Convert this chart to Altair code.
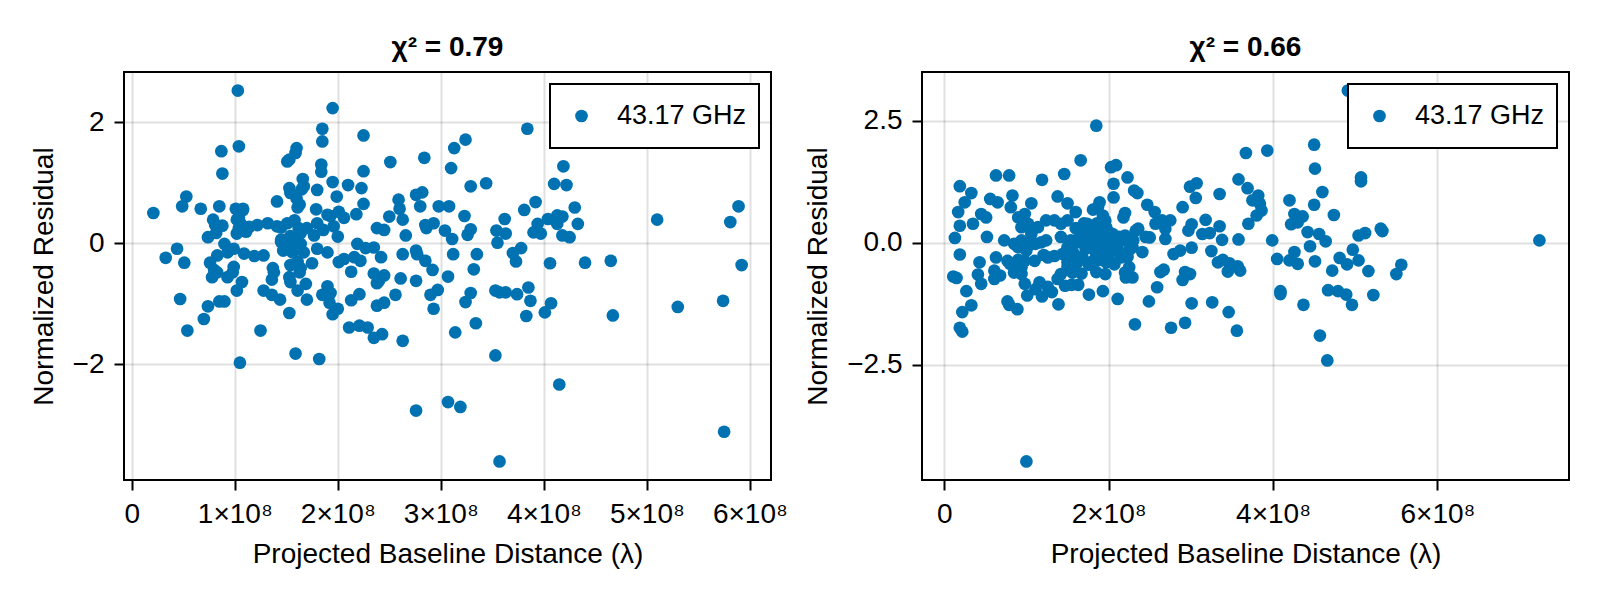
import altair as alt
import pandas as pd

FONT = "Liberation Sans"
BLUE = "#0072B2"
series_name = "43.17 GHz"
left_title = "χ² = 0.79"
right_title = "χ² = 0.66"
x_title = "Projected Baseline Distance (λ)"
y_title = "Normalized Residual"

# (projected baseline distance in units of 1e8 λ, normalized residual)
left_pts = [
    (1.03, 2.52), (1.95, 2.23), (1.85, 1.89), (1.85, 1.68), (2.25, 1.78), (1.04, 1.60), (0.87, 1.52), (0.88, 1.15),
    (1.60, 1.57), (1.59, 1.49), (1.51, 1.35), (1.53, 1.38), (1.84, 1.30), (1.84, 1.18), (2.25, 1.19), (2.51, 1.34), (2.84, 1.41),
    (1.66, 1.06), (1.67, 0.94), (1.53, 0.91), (1.80, 0.88), (1.95, 1.01), (1.99, 0.77), (2.10, 0.96), (2.23, 0.91),
    (0.53, 0.77), (0.49, 0.61), (0.67, 0.57), (0.21, 0.50), (0.85, 0.61), (1.01, 0.57), (1.08, 0.57), (1.41, 0.69),
    (1.60, 0.74), (1.63, 0.64), (1.61, 0.59), (1.79, 0.56), (1.90, 0.47), (1.93, 0.45), (2.01, 0.52), (2.06, 0.42), (2.18, 0.48), (2.25, 0.65),
    (2.59, 0.72), (2.60, 0.57), (2.63, 0.39), (2.50, 0.44), (2.76, 0.80), (2.82, 0.84), (2.80, 0.61), (2.98, 0.61),
    (0.79, 0.39), (0.81, 0.30), (0.88, 0.29), (1.04, 0.43), (1.06, 0.32), (1.02, 0.16), (1.11, 0.19), (0.74, 0.10),
    (1.22, 0.30), (1.32, 0.33), (1.41, 0.28), (1.51, 0.33), (1.58, 0.38), (1.45, 0.06), (1.54, 0.12), (1.64, 0.17), (1.70, 0.25),
    (1.80, 0.33), (1.86, 0.22), (1.96, 0.28), (2.00, 0.11), (2.38, 0.25), (2.45, 0.22), (2.66, 0.13), (2.85, 0.30), (2.93, 0.33), (2.86, 0.25),
    (1.45, 0.02), (1.51, -0.04), (1.58, 0.02), (1.64, -0.01), (1.56, -0.15),
    (0.90, -0.01), (0.93, -0.15), (0.99, -0.09), (1.09, -0.17), (0.44, -0.09), (0.33, -0.24), (0.51, -0.32), (0.76, -0.32), (0.83, -0.20),
    (1.19, -0.21), (1.28, -0.20), (1.75, -0.33), (1.80, -0.09), (1.90, -0.15), (2.01, -0.31), (2.06, -0.26), (2.16, -0.23), (2.22, -0.29),
    (2.19, -0.01), (2.35, -0.07), (2.42, -0.23), (2.63, -0.18), (2.76, -0.12), (2.77, -0.18), (2.85, -0.29), (2.92, -0.44),
    (2.13, -0.47), (2.35, -0.50), (2.45, -0.53), (0.80, -0.44), (0.99, -0.39), (1.37, -0.41), (1.54, -0.36), (1.64, -0.41), (2.61, -0.58), (2.76, -0.62),
    (0.78, -0.56), (0.93, -0.56), (0.83, -0.48), (0.98, -0.48), (1.07, -0.64), (1.02, -0.78), (0.47, -0.92), (0.54, -1.44), (0.70, -1.25), (0.74, -1.04),
    (0.85, -0.96), (0.90, -0.96), (1.25, -1.44), (1.05, -1.97), (1.28, -0.78), (1.36, -0.85), (1.44, -0.93), (1.36, -0.60), (1.38, -0.48),
    (1.53, -0.56), (1.54, -0.64), (1.63, -0.48), (1.53, -1.15), (1.59, -1.82), (1.61, -0.78), (1.69, -0.67), (1.70, -0.93), (1.82, -1.91),
    (1.85, -0.85), (1.90, -0.71), (1.93, -0.82), (1.92, -0.98), (1.95, -1.17), (2.00, -1.08), (2.11, -1.39), (2.21, -1.36), (2.29, -1.39),
    (2.35, -1.56), (2.43, -1.50), (2.13, -0.94), (2.21, -0.84), (2.38, -1.03), (2.45, -0.98), (2.56, -0.85), (2.63, -1.61), (2.38, -0.66),
    (2.90, -0.85), (2.97, -0.77), (2.93, -1.08), (2.76, -2.76),
    (3.84, 1.89), (3.13, 1.57), (3.24, 1.71), (3.10, 1.24), (3.29, 0.94), (3.44, 0.99), (3.08, 0.61), (3.23, 0.45), (3.04, 0.21), (3.11, 0.07),
    (3.29, 0.23), (3.26, 0.14), (3.54, 0.21), (3.63, 0.16), (3.55, 0.01), (3.62, 0.40), (3.81, 0.55), (3.92, 0.68), (3.94, 0.32), (3.90, 0.18), (3.97, 0.16),
    (4.04, 0.40), (4.13, 0.46), (4.18, 0.44), (4.13, 0.32), (4.18, 0.13), (4.25, 0.10), (4.10, 0.98), (4.22, 0.96), (4.19, 1.27), (4.30, 0.59), (4.33, 0.32),
    (5.10, 0.39), (5.89, 0.61), (5.81, 0.35), (3.70, -0.16), (3.78, -0.08), (3.73, -0.30), (4.06, -0.33), (4.40, -0.32), (4.65, -0.29), (5.92, -0.36),
    (3.12, -0.18), (3.35, -0.18), (3.32, -0.43), (3.07, -0.55),
    (3.24, -0.97), (3.29, -0.82), (3.34, -1.32), (3.14, -1.47), (3.53, -0.78), (3.57, -0.81), (3.63, -0.81), (3.74, -0.84), (3.85, -0.73), (3.87, -0.95),
    (3.83, -1.20), (3.53, -1.85), (4.01, -1.14), (4.07, -0.99), (4.67, -1.19), (5.30, -1.05), (5.74, -0.95), (4.15, -2.33), (3.07, -2.62), (3.19, -2.70),
    (3.57, -3.60), (5.75, -3.11),
    (2.27, -0.08), (2.40, -0.62), (1.61, -0.31), (1.67, -0.15), (1.77, 0.13), (1.47, -0.12), (1.45, 0.26), (1.62, 0.25), (1.14, 0.27), (0.82, 0.17),
    (1.08, 0.55), (1.04, 0.25), (1.02, 0.39), (1.54, 0.83), (1.65, 0.89),
]

right_pts = [
    (1.85, 2.40), (1.66, 1.69), (2.03, 1.55), (2.09, 1.59), (2.06, 1.21), (2.06, 0.93), (2.23, 1.34), (2.31, 1.07), (2.35, 1.02), (2.47, 0.78), (2.56, 0.63),
    (2.90, 0.73), (2.99, 1.15), (3.07, 1.22), (3.06, 0.92), (3.35, 1.00), (3.18, 0.47), (3.14, 0.18), (3.23, 0.20), (3.35, 0.34), (3.01, 0.38), (2.97, 0.25),
    (3.01, -0.10), (3.25, -0.17), (3.33, -0.40), (0.19, 1.16), (0.33, 1.02), (0.25, 0.83), (0.17, 0.63), (0.35, 0.39), (0.45, 0.59), (0.51, 0.52),
    (0.19, 0.35), (0.13, 0.10), (0.19, -0.24), (0.63, 1.38), (0.79, 1.38), (0.56, 0.90), (0.65, 0.83), (0.83, 0.97), (0.81, 0.73), (1.06, 0.81), (1.19, 1.29),
    (1.46, 1.41), (1.38, 0.95), (1.50, 0.81), (1.60, 0.63), (1.81, 0.68), (1.89, 0.83), (1.93, 0.56), (2.18, 0.52), (2.20, 0.61), (2.33, 0.25), (2.45, 0.12),
    (2.57, 0.39), (2.65, 0.46), (2.75, 0.46), (2.69, 0.29), (2.69, 0.08), (0.52, 0.12), (0.73, 0.05), (0.85, -0.02), (0.90, 0.52), (0.98, 0.59), (1.02, 0.39),
    (0.94, 0.32), (1.06, 0.18), (1.14, 0.32), (1.24, 0.46), (1.34, 0.46), (1.42, 0.39), (1.50, 0.46), (0.94, 0.05), (1.06, -0.02), (1.18, 0.01), (1.24, 0.05),
    (1.42, 0.12), (1.54, 0.05), (1.66, 0.25), (1.74, 0.39), (1.81, 0.32), (1.89, 0.25), (1.97, 0.32), (2.05, 0.18), (1.62, 0.01), (1.74, -0.06), (1.85, 0.01),
    (1.93, -0.09), (2.05, -0.03), (2.13, 0.12), (2.18, 0.05), (2.29, -0.09), (2.41, -0.19), (1.50, -0.09), (1.58, -0.23), (2.13, -0.19), (2.23, -0.29),
    (1.44, -0.23), (1.50, -0.40), (1.81, -0.37), (1.97, -0.40), (2.07, -0.44), (2.79, -0.23), (2.87, -0.16), (2.93, -0.60), (2.67, -0.55), (0.43, -0.40),
    (0.63, -0.30), (0.61, -0.57), (0.77, -0.37), (0.85, -0.44), (0.98, -0.37), (1.10, -0.37), (0.11, -0.69), (0.41, -0.65), (0.85, -0.61), (0.94, -0.64),
    (1.42, -0.64), (1.56, -0.61), (2.20, -0.61), (2.29, -0.71),
    (0.15, -0.72), (0.27, -0.99), (0.22, -1.42), (0.33, -1.28), (0.19, -1.74), (0.22, -1.82), (0.45, -0.84), (0.61, -0.74), (0.68, -0.67), (0.77, -1.20),
    (0.79, -1.27), (0.89, -1.36), (1.01, -1.08), (1.11, -0.95), (1.19, -1.10), (1.31, -1.01), (1.39, -1.26), (1.55, -0.86), (1.63, -0.86), (1.47, -0.88),
    (1.67, -0.63), (1.76, -1.06), (1.85, -0.60), (1.96, -0.64), (1.93, -0.99), (2.11, -1.15), (2.32, -1.67), (2.49, -1.20), (2.59, -0.91), (2.63, -0.60),
    (2.76, -1.74), (2.90, -0.76), (2.99, -0.64), (2.93, -1.64), (3.01, -1.24), (3.26, -1.22), (1.00, -4.48),
    (4.91, 3.12), (4.50, 2.01), (4.51, 1.52), (3.67, 1.84), (3.93, 1.89), (5.07, 1.34), (5.07, 1.26), (3.58, 1.30), (3.69, 1.12), (3.82, 0.97), (3.75, 0.87),
    (3.84, 0.80), (3.86, 0.66), (3.80, 0.56), (3.70, 0.39), (4.20, 0.87), (4.50, 0.78), (4.60, 1.04), (4.74, 0.57), (4.26, 0.59), (4.36, 0.54), (4.22, 0.38),
    (4.30, 0.42), (4.42, 0.22), (4.56, 0.18), (4.64, 0.03), (5.04, 0.15), (5.12, 0.20), (5.31, 0.29), (5.33, 0.24), (7.24, 0.05), (3.38, 0.06), (3.58, 0.07),
    (3.99, 0.05), (4.05, -0.33), (4.20, -0.36), (4.26, -0.19), (4.30, -0.43), (4.45, -0.07), (4.51, -0.38), (4.72, -0.57), (4.81, -0.31), (4.90, -0.44),
    (4.97, -0.14), (5.04, -0.36), (5.16, -0.58), (5.50, -0.64), (5.56, -0.45), (3.39, -0.35), (3.47, -0.42), (3.45, -0.59), (3.57, -0.48),
    (3.46, -1.42), (3.56, -1.80), (4.09, -0.99), (4.09, -1.05), (4.37, -1.27), (4.57, -1.90), (4.66, -2.41), (4.67, -0.97), (4.79, -0.99), (4.89, -1.06),
    (4.96, -1.27), (5.22, -1.07), (3.60, -0.57),
    (1.65, 0.15), (1.70, 0.05), (1.72, -0.12), (1.78, 0.20), (1.80, 0.10), (1.82, -0.02), (1.84, -0.18), (1.87, 0.14), (1.90, 0.05), (1.92, -0.22),
    (1.95, 0.12), (1.98, -0.05), (2.00, 0.22), (2.02, -0.15), (2.08, 0.08), (2.10, -0.08), (2.15, -0.30), (2.20, 0.15), (2.25, -0.15), (1.68, -0.30),
    (1.76, -0.45), (1.88, -0.35), (2.00, -0.30), (1.60, 0.30), (1.70, 0.40), (1.55, -0.15), (1.62, -0.40), (1.86, 0.40), (1.96, 0.45), (2.30, 0.05),
    (0.90, -0.09), (1.00, -0.16), (1.11, -0.02), (1.21, -0.25), (0.80, -0.43), (0.94, -0.50), (0.90, -0.35), (1.26, -0.30), (1.34, -0.27), (1.50, -0.49),
    (1.58, -0.52), (0.98, -0.84), (1.16, -0.81), (1.26, -0.90), (1.38, -0.74), (2.36, 0.29), (2.50, 0.11), (1.87, 0.73), (2.25, -0.50), (2.21, -0.71),
]

left_x_ticks = [0, 1e8, 2e8, 3e8, 4e8, 5e8, 6e8]
left_y_ticks = [-2, 0, 2]
right_x_ticks = [0, 2e8, 4e8, 6e8]
right_y_ticks = [-2.5, 0, 2.5]
left_x_domain = [-0.075e8, 6.205e8]
left_y_domain = [-3.906, 2.826]
right_x_domain = [-0.27e8, 7.60e8]
right_y_domain = [-4.86, 3.50]

X_LABEL = "datum.value == 0 ? '0' : format(datum.value / 1e8, 'd') + '×10⁸'"


def panel(pts, title, xdom, ydom, xticks, yticks, yfmt):
    df = pd.DataFrame({
        "x": [p[0] * 1e8 for p in pts],
        "y": [p[1] for p in pts],
        "series": series_name,
    })
    return alt.Chart(df, title=alt.TitleParams(
        title, font=FONT, fontSize=28, fontWeight="bold", color="black",
        anchor="middle", baseline="alphabetic", offset=-12, frame="group",
    )).mark_circle(size=161, opacity=1).encode(
        x=alt.X("x:Q", title=x_title,
                scale=alt.Scale(domain=xdom, nice=False, zero=False),
                axis=alt.Axis(values=xticks, labelExpr=X_LABEL, labelPadding=10,
                              titlePadding=12, labelFlush=False, labelOverlap=False)),
        y=alt.Y("y:Q", title=y_title,
                scale=alt.Scale(domain=ydom, nice=False, zero=False),
                axis=alt.Axis(values=yticks, format=yfmt, labelPadding=10,
                              titlePadding=14, labelFlush=False, labelOverlap=False)),
        color=alt.Color("series:N", scale=alt.Scale(range=[BLUE]),
                        legend=alt.Legend(title=None, orient="top-right", offset=12)),
    ).properties(width=647, height=408)


left = panel(left_pts, left_title, left_x_domain, left_y_domain,
             left_x_ticks, left_y_ticks, "d")
right = panel(right_pts, right_title, right_x_domain, right_y_domain,
              right_x_ticks, right_y_ticks, ".1f")

chart = alt.hconcat(left, right, spacing=14).resolve_scale(
    color="independent").resolve_legend(color="independent").properties(
    padding={"left": 21, "top": 25, "right": 10, "bottom": 5},
    background="white",
).configure_view(stroke="black", strokeWidth=2).configure_axis(
    labelFont=FONT, labelFontSize=28, labelColor="black",
    titleFont=FONT, titleFontSize=28, titleFontWeight="normal", titleColor="black",
    tickColor="black", tickWidth=2, tickSize=10, domain=False,
    gridColor="black", gridOpacity=0.12, gridWidth=2,
).configure_legend(
    labelFont=FONT, labelFontSize=27, labelColor="black",
    padding=12, strokeColor="black", strokeWidth=2, fillColor="white", cornerRadius=0,
    symbolType="circle", symbolSize=161, symbolStrokeWidth=0,
    symbolOffset=6, labelOffset=22, clipHeight=40,
)

chart.save("out.html", embed_options={"renderer": "svg", "actions": False})
